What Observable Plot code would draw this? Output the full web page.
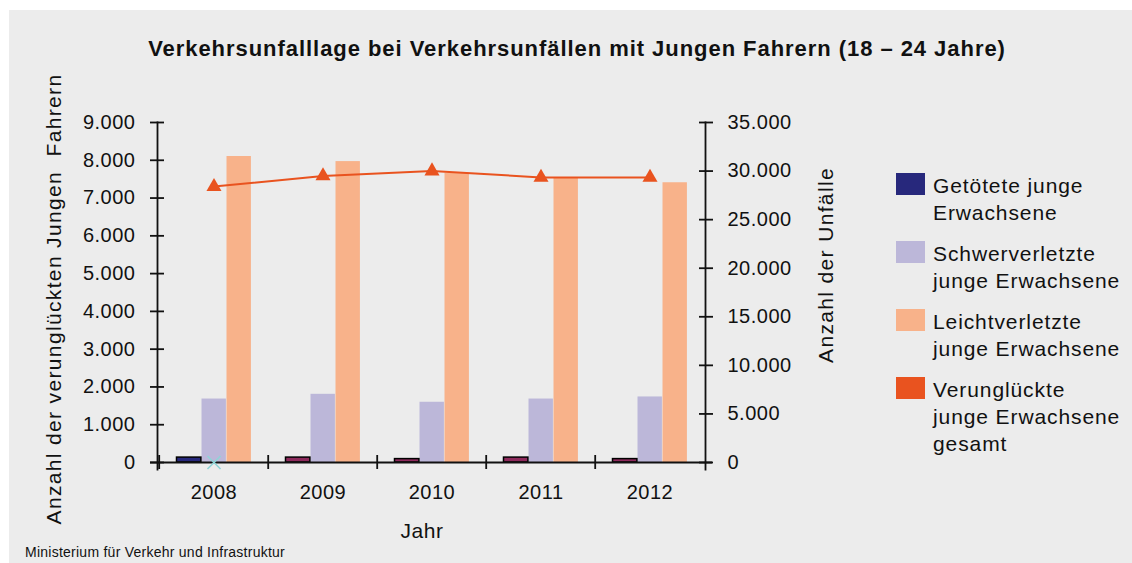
<!DOCTYPE html>
<html><head><meta charset="utf-8">
<script src="https://cdn.jsdelivr.net/npm/d3@7"></script>
<script src="https://cdn.jsdelivr.net/npm/@observablehq/plot@0.6"></script>
<style>
body{margin:0;background:#fff;font-family:"Liberation Sans",Arial,sans-serif;color:#111;}
#panel{position:absolute;left:9px;top:10px;width:1123px;height:553px;background:#ececec;overflow:hidden;}
#title{position:absolute;left:0;width:1136px;top:28px;text-align:center;font-weight:bold;font-size:22px;line-height:1;white-space:nowrap;letter-spacing:0.95px;}
#chart{position:absolute;left:0;top:90px;}
.ytitle{position:absolute;width:600px;text-align:center;font-size:21px;line-height:1;white-space:pre;letter-spacing:1.35px;transform:translate(-50%,-50%) rotate(-90deg);}
#xtitle{position:absolute;left:413px;top:510px;transform:translateX(-50%);font-size:21px;line-height:1;letter-spacing:0.5px;}
#caption{position:absolute;left:16px;top:535px;font-size:14px;line-height:1;white-space:nowrap;letter-spacing:0.25px;}
.lg{position:absolute;left:887px;}
.sw{position:absolute;left:0;top:0;width:29px;height:22px;}
.lt{position:absolute;left:37px;top:-1px;font-size:21px;line-height:27px;white-space:nowrap;letter-spacing:0.9px;}
</style></head>
<body>
<div id="panel">
  <div id="title">Verkehrsunfalllage bei Verkehrsunfällen mit Jungen Fahrern (18 – 24 Jahre)</div>
  <div id="chart"></div>
  <div class="ytitle" style="left:44px;top:289px;">Anzahl der verunglückten Jungen  Fahrern</div>
  <div class="ytitle" style="left:816px;top:255px;">Anzahl der Unfälle</div>
  <div id="xtitle">Jahr</div>
  <div id="legend"></div>
  <div id="caption">Ministerium für Verkehr und Infrastruktur</div>
</div>
<script>
// ---- data ----
const years = ["2008", "2009", "2010", "2011", "2012"];
const getoetete = [130, 130, 90, 130, 90];
const schwerverletzte = [1680, 1805, 1595, 1680, 1735];
const leichtverletzte = [8100, 7965, 7655, 7530, 7405];
const verunglueckteGesamt = [28400, 29500, 30000, 29350, 29350];
const strayMarkerYears = ["2008"];
const strayMarkerValues = [0];
const leftTicks = [0, 1000, 2000, 3000, 4000, 5000, 6000, 7000, 8000, 9000];
const rightTicks = [0, 5000, 10000, 15000, 20000, 25000, 30000, 35000];
const leftMax = 9000;
const rightMax = 35000;
const seriesNames = ["Getötete junge\nErwachsene", "Schwerverletzte\njunge Erwachsene", "Leichtverletzte\njunge Erwachsene", "Verunglückte\njunge Erwachsene\ngesamt"];

// ---- styles ----
const colNavy = "#27287c", colMaroon = "#8e2a5c", colLila = "#bcb7d9", colPeach = "#f8b28a", colOrange = "#e9531f", colCyan = "#8fd4d7";
const legendColors = [colNavy, colLila, colPeach, colOrange];

const de = d3.formatLocale({decimal: ",", thousands: ".", grouping: [3], currency: ["", " €"]});
const fmt = de.format(",");

const toRows = (vals) => years.map((y, i) => ({year: y, value: vals[i]}));
const rowsG = toRows(getoetete);
const rowsS = toRows(schwerverletzte);
const rowsL = toRows(leichtverletzte);
const rowsV = years.map((y, i) => ({year: y, value: verunglueckteGesamt[i] * leftMax / rightMax}));
const rowsX = strayMarkerYears.map((y, i) => ({year: y, value: strayMarkerValues[i]}));
const rightPos = rightTicks.map(v => v * leftMax / rightMax);

const W = 1123, H = 410, mL = 148, mR = 427, mT = 22, mB = 48;
const bw = (W - mL - mR) / years.length;
const off = 17.5, barW = 25;
const ins = (k) => ({insetLeft: off + k * barW, insetRight: bw - (off + (k + 1) * barW)});
const AX = "#111", SW = 1.8;

const chart = Plot.plot({
  width: W, height: H,
  marginLeft: mL, marginRight: mR, marginTop: mT, marginBottom: mB,
  style: {fontSize: "20px", fontFamily: "Liberation Sans, Arial, sans-serif", color: AX, background: "transparent", overflow: "visible", letterSpacing: "0.5px"},
  x: {type: "band", domain: years, padding: 0},
  y: {domain: [0, leftMax]},
  marks: [
    Plot.barY(rowsS, {x: "year", y: "value", fill: colLila, ...ins(1)}),
    Plot.barY(rowsL, {x: "year", y: "value", fill: colPeach, ...ins(2)}),
    Plot.barY(rowsG, {x: "year", y: "value", fill: d => d.year === "2008" ? colNavy : colMaroon, stroke: "#000", strokeWidth: 1.5, ...ins(0)}),
    Plot.ruleY([0], {insetLeft: -7, insetRight: -7, stroke: AX, strokeWidth: SW}),
    Plot.frame({anchor: "left", insetBottom: -7, stroke: AX, strokeWidth: SW}),
    Plot.frame({anchor: "right", insetBottom: -7, stroke: AX, strokeWidth: SW}),
    Plot.axisY(leftTicks, {anchor: "left", tickSize: 14, dx: 7, fill: "none", stroke: AX, strokeWidth: SW, label: null}),
    Plot.axisY(leftTicks, {anchor: "left", tickSize: 0, tickPadding: 22, tickFormat: fmt, label: null}),
    Plot.axisY(rightPos, {anchor: "right", tickSize: 14, dx: -7, fill: "none", stroke: AX, strokeWidth: SW, label: null}),
    Plot.axisY(rightPos, {anchor: "right", tickSize: 0, tickPadding: 22, tickFormat: d => fmt(Math.round(d * rightMax / leftMax)), label: null}),
    Plot.axisX({tickSize: 14, dy: -7, dx: -bw / 2, fill: "none", stroke: AX, strokeWidth: SW, label: null}),
    Plot.axisX({tickSize: 0, tickPadding: 22, label: null}),
    Plot.dot(rowsX, {x: "year", y: "value", symbol: "times", r: 6, stroke: colCyan, strokeWidth: 1.6}),
    Plot.line(rowsV, {x: "year", y: "value", stroke: colOrange, strokeWidth: 2}),
    Plot.dot(rowsV, {x: "year", y: "value", symbol: "triangle", r: 5.6, fill: colOrange, stroke: "none"})
  ]
});
document.getElementById("chart").appendChild(chart);

const lg = document.getElementById("legend");
seriesNames.forEach((name, i) => {
  const d = document.createElement("div");
  d.className = "lg";
  d.style.top = (163 + 68 * i) + "px";
  d.innerHTML = `<div class="sw" style="background:${legendColors[i]}"></div><div class="lt">${name.split("\n").join("<br>")}</div>`;
  lg.appendChild(d);
});
</script>
</body></html>
